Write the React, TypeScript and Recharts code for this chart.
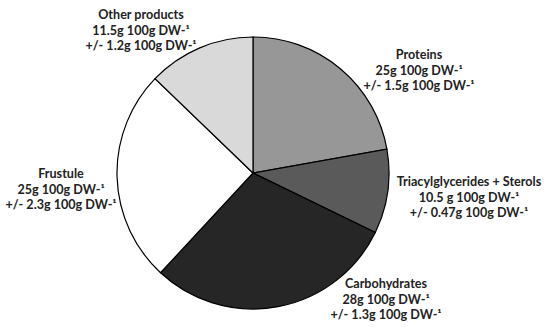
import React from "react";
import { PieChart, Pie, Cell } from "recharts";

// slice shares (percent of the circle)
const categories = ["Proteins", "Triacylglycerides + Sterols", "Carbohydrates", "Frustule", "Other products"];
const sliceValues = [22.2, 10, 29.7, 25.3, 12.8];
const amounts = ["25g", "10.5 g", "28g", "25g", "11.5g"];
const errors = ["1.5g", "0.47g", "1.3g", "2.3g", "1.2g"];

const colors = ["#979797", "#5a5a5a", "#262626", "#ffffff", "#d9d9d9"];
// label block centre (x, first-line y)
const labelPos = [
  [419, 54],
  [469, 181],
  [386, 283],
  [61, 173],
  [141, 14],
];

const data = categories.map((name, i) => ({ name, value: sliceValues[i] }));

const renderLabel = (props: any) => {
  const i = props.index;
  const [x, y] = labelPos[i];
  return (
    <text
      key={i}
      x={x}
      y={y}
      textAnchor="middle"
      dominantBaseline="central"
      fontFamily="Lato, sans-serif"
      fontWeight="bold"
      fontSize={12.6}
      fill="#222"
    >
      <tspan x={x} dy={0}>{categories[i]}</tspan>
      <tspan x={x} dy={15.5}>{amounts[i]} 100g DW-¹</tspan>
      <tspan x={x} dy={15.5}>+/- {errors[i]} 100g DW-¹</tspan>
    </text>
  );
};

export default function App() {
  return (
    <div style={{ position: "absolute", left: 0, top: 0, width: 550, height: 327, background: "#fff" }}>
      <PieChart width={550} height={327} margin={{ top: 0, right: 0, bottom: 0, left: 0 }}>
        <Pie
          data={data}
          dataKey="value"
          nameKey="name"
          cx={253}
          cy={173}
          outerRadius={136}
          startAngle={90}
          endAngle={-270}
          stroke="#000"
          strokeWidth={1.2}
          label={renderLabel}
          labelLine={false}
          isAnimationActive={false}
        >
          {data.map((d, i) => (
            <Cell key={d.name} fill={colors[i]} />
          ))}
        </Pie>
      </PieChart>
    </div>
  );
}
